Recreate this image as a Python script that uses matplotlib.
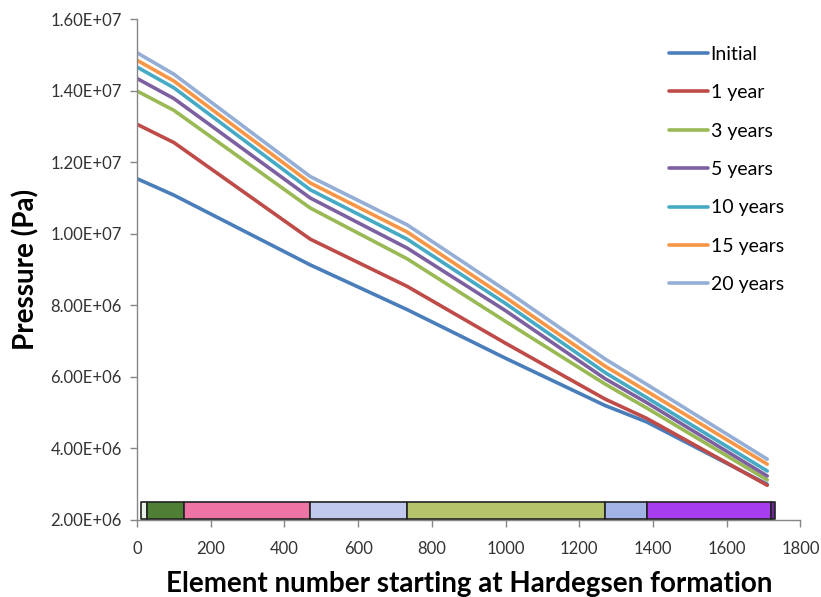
import numpy as np
import matplotlib
matplotlib.use("Agg")
import matplotlib.pyplot as plt
from matplotlib.ticker import FuncFormatter

plt.rcParams['font.family'] = ['Lato', 'DejaVu Sans']

# element numbers where readings were taken
elem = [0, 100, 470, 733, 1000, 1270, 1383, 1710]

# pressures (Pa)
initial = [1.154e7, 1.108e7, 9.13e6, 7.88e6, 6.52e6, 5.20e6, 4.74e6, 3.00e6]
yr1 = [1.306e7, 1.255e7, 9.85e6, 8.53e6, 6.94e6, 5.38e6, 4.84e6, 2.97e6]
yr3 = [1.399e7, 1.345e7, 1.072e7, 9.30e6, 7.55e6, 5.80e6, 5.13e6, 3.12e6]
yr5 = [1.434e7, 1.378e7, 1.100e7, 9.60e6, 7.85e6, 5.95e6, 5.28e6, 3.23e6]
yr10 = [1.466e7, 1.408e7, 1.123e7, 9.85e6, 8.05e6, 6.12e6, 5.42e6, 3.37e6]
yr15 = [1.485e7, 1.427e7, 1.142e7, 1.005e7, 8.22e6, 6.30e6, 5.60e6, 3.56e6]
yr20 = [1.506e7, 1.446e7, 1.160e7, 1.025e7, 8.42e6, 6.50e6, 5.79e6, 3.70e6]

labels = ['Initial', '1 year', '3 years', '5 years', '10 years', '15 years', '20 years']
colors = ['#4A7EBB', '#BE4B48', '#98B954', '#7D60A0', '#46AAC5', '#F79646', '#95AED6']

# formation strip along the bottom (element ranges)
form_start = [12, 28, 128, 470, 733, 1270, 1383, 1720]
form_end = [28, 128, 470, 733, 1270, 1383, 1720, 1731]
form_colors = ['#E6F3E6', '#4E7F35', '#EE74A6', '#C1C9EE', '#B5C46A', '#A2B4E6', '#A63EEF', '#6B2A95']

fig = plt.figure(figsize=(8.21, 5.97), dpi=100)
ax = fig.add_axes([0.1669, 0.129, 0.808, 0.839])

series = [initial, yr1, yr3, yr5, yr10, yr15, yr20]
for s, lab, c in zip(series, labels, colors):
    ax.plot(elem, s, color=c, lw=2.6, label=lab, solid_capstyle='round',
            solid_joinstyle='round')

# formation bar
ax.broken_barh([(a, b - a) for a, b in zip(form_start, form_end)], (2.03e6, 0.47e6),
               facecolors=form_colors, edgecolor='#222222', linewidth=1.2, zorder=3)

ax.set_xlim(0, 1800)
ax.set_ylim(2e6, 1.6e7)
ax.set_xticks(np.arange(0, 1801, 200))
ax.set_yticks(np.arange(2e6, 1.61e7, 2e6))
ax.yaxis.set_major_formatter(FuncFormatter(lambda v, p: f"{v:.2E}"))

for sp in ['top', 'right']:
    ax.spines[sp].set_visible(False)
for sp in ['left', 'bottom']:
    ax.spines[sp].set_color('#868686')
    ax.spines[sp].set_linewidth(1.0)
ax.tick_params(axis='both', colors='#868686', labelcolor='#333333', labelsize=12,
               length=5, width=1.0)
ax.tick_params(axis='y', pad=6)
ax.tick_params(axis='x', pad=10)

ax.set_ylabel('Pressure (Pa)', fontsize=20, fontweight='bold', labelpad=8)
ax.set_xlabel('Element number starting at Hardegsen formation', fontsize=20,
              fontweight='bold', labelpad=10)

ax.legend(loc='upper left', bbox_to_anchor=(0.79, 0.962), frameon=False, fontsize=14,
          handlelength=2.0, handletextpad=0.15, labelspacing=1.1, borderaxespad=0)

fig.savefig('out.png', dpi=100)
